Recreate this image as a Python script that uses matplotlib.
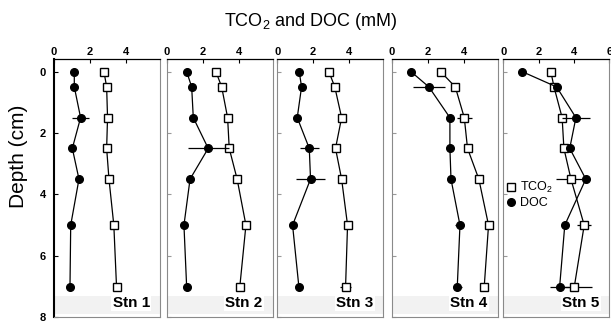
import matplotlib
matplotlib.use("Agg")
import matplotlib.pyplot as plt
from matplotlib.lines import Line2D

plt.rcParams['font.family'] = ['Liberation Sans', 'DejaVu Sans']
plt.rcParams['mathtext.fontset'] = 'custom'
plt.rcParams['mathtext.rm'] = 'Liberation Sans'
plt.rcParams['mathtext.it'] = 'Liberation Sans'

depth = [0, 0.5, 1.5, 2.5, 3.5, 5, 7]
stations = ["Stn 1", "Stn 2", "Stn 3", "Stn 4", "Stn 5"]

tco2 = [
    [2.78, 2.93, 2.98, 2.93, 3.06, 3.33, 3.48],
    [2.74, 3.06, 3.39, 3.48, 3.92, 4.41, 4.07],
    [2.87, 3.20, 3.58, 3.24, 3.58, 3.91, 3.80],
    [2.72, 3.54, 4.04, 4.22, 4.85, 5.39, 5.15],
    [2.69, 2.87, 3.33, 3.43, 3.83, 4.58, 4.02],
]
tco2_err = [
    [0, 0, 0, 0, 0, 0, 0],
    [0, 0, 0, 0, 0, 0, 0],
    [0, 0, 0, 0, 0, 0, 0.32],
    [0, 0, 0.42, 0, 0, 0, 0],
    [0, 0, 0.2, 0.2, 0.85, 0.4, 1.0],
]
doc = [
    [1.13, 1.13, 1.48, 1.02, 1.39, 0.93, 0.89],
    [1.11, 1.39, 1.48, 2.31, 1.30, 0.96, 1.11],
    [1.22, 1.35, 1.11, 1.78, 1.85, 0.85, 1.20],
    [1.07, 2.07, 3.24, 3.24, 3.30, 3.80, 3.65],
    [1.06, 3.02, 4.11, 3.76, 4.67, 3.48, 3.19],
]
doc_err = [
    [0, 0, 0.47, 0, 0, 0, 0],
    [0, 0, 0, 1.13, 0, 0, 0],
    [0, 0, 0, 0.54, 0.83, 0, 0],
    [0, 0.91, 0.2, 0, 0, 0.25, 0.25],
    [0, 0, 0.8, 0, 0, 0, 0.55],
]

W, H = 611, 324
fig = plt.figure(figsize=(W / 100, H / 100), dpi=100)
lefts_px = [54, 166.7, 277.3, 391.7, 503.3]
width_px = 106
top_px, bot_px = 59.3, 317.3

frame_gray = '#8a8a8a'
msize = 5.5
for i, st in enumerate(stations):
    ax = fig.add_axes([lefts_px[i] / W, 1 - bot_px / H, width_px / W, (bot_px - top_px) / H])
    ax.set_xlim(0, 6.0 if i == 4 else 5.9)
    ax.set_ylim(8, -0.4)
    ax.xaxis.set_ticks_position('top')
    ax.xaxis.set_label_position('top')
    ax.set_xticks([0, 2, 4, 6] if i == 4 else [0, 2, 4])
    ax.set_yticks([0, 2, 4, 6, 8])
    ax.tick_params(axis='both', direction='in', length=3, width=0.8, labelsize=8, pad=2)
    for lab in ax.get_xticklabels():
        lab.set_fontweight('bold')
    if i == 0:
        for lab in ax.get_yticklabels():
            lab.set_fontweight('bold')
        ax.tick_params(axis='y', pad=6)
        ax.spines['left'].set_color('black')
        ax.spines['left'].set_linewidth(1.5)
    else:
        ax.tick_params(axis='y', labelleft=False, color='#999999')
        ax.spines['left'].set_color(frame_gray)
        ax.spines['left'].set_linewidth(0.8)
    ax.spines['top'].set_color('black')
    ax.spines['top'].set_linewidth(0.9)
    for s in ('right', 'bottom'):
        ax.spines[s].set_color(frame_gray)
        ax.spines[s].set_linewidth(0.8)

    ax.axhspan(7.3, 7.9, color='#f2f2f2', zorder=0, lw=0)

    ax.errorbar(tco2[i], depth, xerr=tco2_err[i], color='black', lw=0.9,
                elinewidth=0.9, capsize=0, marker='s', markersize=msize,
                markerfacecolor='white', markeredgecolor='black',
                markeredgewidth=1.0, zorder=3)
    ax.errorbar(doc[i], depth, xerr=doc_err[i], color='black', lw=0.9,
                elinewidth=0.9, capsize=0, marker='o', markersize=msize,
                markerfacecolor='black', markeredgecolor='black', zorder=4)

    ax.text(0.905, 0.057, st, transform=ax.transAxes, ha='right', va='center',
            fontsize=11, fontweight='bold',
            bbox=dict(facecolor='white', edgecolor='none', pad=1.0), zorder=5)

    if i == 4:
        handles = [
            Line2D([], [], marker='s', ls='none', markersize=msize,
                   markerfacecolor='white', markeredgecolor='black', markeredgewidth=1.0),
            Line2D([], [], marker='o', ls='none', markersize=msize,
                   markerfacecolor='black', markeredgecolor='black'),
        ]
        ax.legend(handles, ['TCO$_2$', 'DOC'], loc='center left',
                  bbox_to_anchor=(0.03, 0.475), frameon=False, fontsize=9,
                  handlelength=0.8, handletextpad=0.3, labelspacing=0.15,
                  borderpad=0, borderaxespad=0)

fig.text(311 / W, 1 - 22 / H, 'TCO$_2$ and DOC (mM)', ha='center', va='center',
         fontsize=13)
fig.text(18.5 / W, 1 - 156 / H, 'Depth (cm)', ha='center', va='center',
         rotation=90, fontsize=15)

fig.savefig('out.png', dpi=100)
